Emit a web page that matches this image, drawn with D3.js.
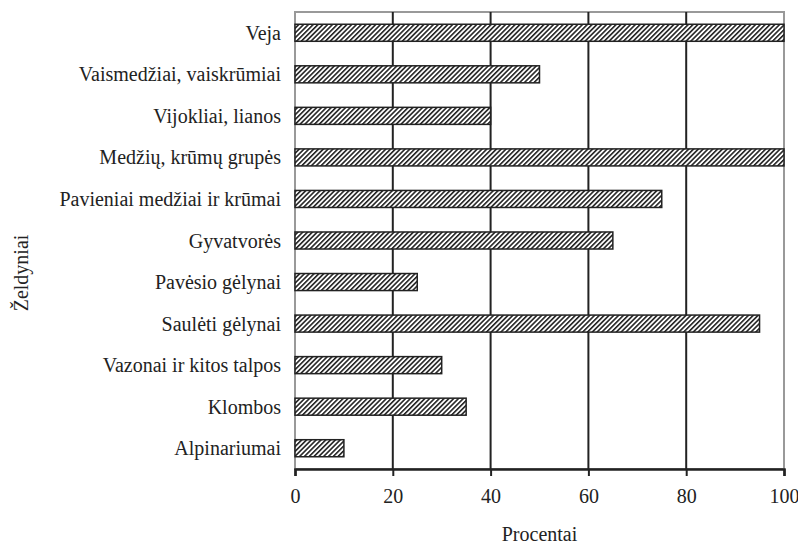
<!DOCTYPE html>
<html>
<head>
<meta charset="utf-8">
<script src="https://cdn.jsdelivr.net/npm/d3@7"></script>
</head>
<body style="margin:0; background:#fff">
<div class="vis-holder"></div>
<script>
var categories = ['Veja', 'Vaismedžiai, vaiskrūmiai', 'Vijokliai, lianos', 'Medžių, krūmų grupės',
  'Pavieniai medžiai ir krūmai', 'Gyvatvorės', 'Pavėsio gėlynai', 'Saulėti gėlynai',
  'Vazonai ir kitos talpos', 'Klombos', 'Alpinariumai'];
var values = [100, 50, 40, 100, 75, 65, 25, 95, 30, 35, 10];
var xTicks = [0, 20, 40, 60, 80, 100];

var width = 798;
var height = 547;
var margin = { top: 12, bottom: 78, left: 295, right: 14 };
var serif = 'Liberation Serif';

var svg = d3.select('div.vis-holder')
  .append('svg')
  .attr('width', width)
  .attr('height', height);

var defs = svg.append('defs');
var pat = defs.append('pattern')
  .attr('id', 'hatch')
  .attr('patternUnits', 'userSpaceOnUse')
  .attr('width', 3.4)
  .attr('height', 3.4)
  .attr('patternTransform', 'rotate(45)');
pat.append('rect').attr('width', 3.4).attr('height', 3.4).attr('fill', '#fff');
pat.append('line')
  .attr('x1', 0).attr('y1', 0).attr('x2', 0).attr('y2', 3.4)
  .attr('stroke', '#222').attr('stroke-width', 3.2);

var xScale = d3.scaleLinear()
  .domain([0, 100])
  .range([margin.left, width - margin.right]);

var yScale = d3.scaleBand()
  .domain(categories)
  .range([margin.top, height - margin.bottom])
  .paddingInner(0.59)
  .paddingOuter(0.295);

// plot border (gray)
svg.append('rect')
  .attr('x', margin.left)
  .attr('y', margin.top)
  .attr('width', width - margin.right - margin.left)
  .attr('height', height - margin.bottom - margin.top)
  .attr('fill', 'none')
  .attr('stroke', '#999')
  .attr('stroke-width', 2);

// gridlines
svg.append('g')
  .selectAll('line')
  .data(xTicks.filter(function(d) { return d > 0 && d < 100; }))
  .enter()
  .append('line')
  .attr('x1', function(d) { return xScale(d); })
  .attr('x2', function(d) { return xScale(d); })
  .attr('y1', margin.top)
  .attr('y2', height - margin.bottom)
  .attr('stroke', '#222')
  .attr('stroke-width', 2);

// bars
svg.append('g')
  .selectAll('rect')
  .data(values)
  .enter()
  .append('rect')
  .attr('x', xScale(0))
  .attr('y', function(d, i) { return yScale(categories[i]); })
  .attr('width', function(d) { return xScale(d) - xScale(0); })
  .attr('height', yScale.bandwidth())
  .attr('fill', 'url(#hatch)')
  .attr('stroke', '#222')
  .attr('stroke-width', 1.5);

// x axis
var xAxis = svg.append('g')
  .attr('transform', 'translate(0,' + (height - margin.bottom) + ')')
  .call(d3.axisBottom(xScale).tickValues(xTicks).tickSize(7).tickPadding(13));
xAxis.attr('font-family', serif).attr('font-size', 20);
xAxis.select('.domain').attr('stroke', '#222').attr('stroke-width', 2.5);
xAxis.selectAll('.tick line').attr('stroke', '#222').attr('stroke-width', 2);
xAxis.selectAll('.tick text')
  .style('font-family', serif)
  .style('font-size', '20px')
  .attr('fill', '#222');

// category labels
svg.append('g')
  .selectAll('text')
  .data(categories)
  .enter()
  .append('text')
  .attr('x', margin.left - 14)
  .attr('y', function(d) { return yScale(d) + yScale.bandwidth() / 2; })
  .attr('dy', '0.35em')
  .attr('text-anchor', 'end')
  .attr('fill', '#222')
  .style('font-family', serif)
  .style('font-size', '20px')
  .text(function(d) { return d; });

var yLabel = svg.append('text')
  .attr('text-anchor', 'middle')
  .attr('transform', 'translate(28,273)rotate(-90)')
  .attr('fill', '#222')
  .style('font-family', serif)
  .style('font-size', '20px')
  .text('Želdyniai');

var xLabel = svg.append('text')
  .attr('text-anchor', 'middle')
  .attr('transform', 'translate(' + ((margin.left + width - margin.right) / 2) + ',' + 541 + ')')
  .attr('fill', '#222')
  .style('font-family', serif)
  .style('font-size', '20px')
  .text('Procentai');
</script>
</body>
</html>
